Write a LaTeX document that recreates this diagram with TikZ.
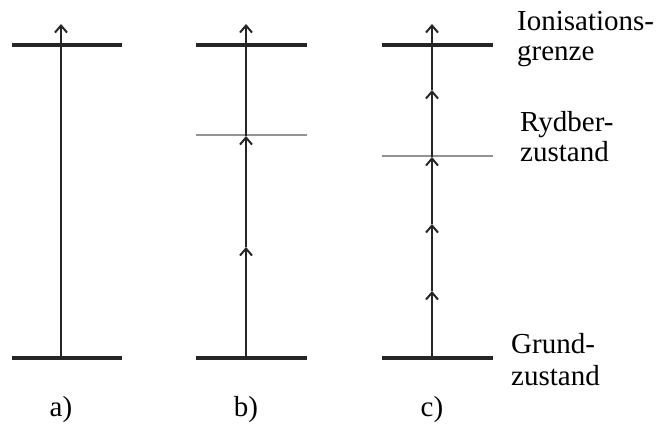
\documentclass[tikz,border=0pt]{standalone}
\usepackage{fontspec}
\setmainfont{Liberation Serif}
\usetikzlibrary{arrows.meta}
\begin{document}
\begin{tikzpicture}[x=1pt,y=-1pt,
  level/.style={line width=3.5pt,black!85},
  rydlevel/.style={line width=2.4pt,black!42},
  photon/.style={line width=2.2pt,black!85,-{Straight Barb[length=7pt,width=12pt,line width=2pt]}},
  lbl/.style={font=\fontsize{29}{31}\selectfont,anchor=base west,inner sep=0pt},
  sub/.style={font=\fontsize{29}{31}\selectfont,anchor=base,inner sep=0pt}]
\useasboundingbox (0,0) rectangle (661,423);
% column a
\coordinate (a0) at (61,358);
\coordinate (aI) at (61,24);
\draw[level] (12,358) -- (122,358);
\draw[level] (12,45) -- (122,45);
\draw[photon] (a0) -- (aI);
% column b
\coordinate (b0) at (246,358);
\coordinate (b1) at (246,247);
\coordinate (b2) at (246,136);
\coordinate (bI) at (246,24);
\draw[level] (196,358) -- (307,358);
\draw[level] (196,45) -- (307,45);
\draw[rydlevel] (196,135) -- (307,135);
\draw[photon] (b0) -- (b1);
\draw[photon] (b1) -- (b2);
\draw[photon] (b2) -- (bI);
% column c
\coordinate (c0) at (432,358);
\coordinate (c1) at (432,291);
\coordinate (c2) at (432,224);
\coordinate (c3) at (432,157);
\coordinate (c4) at (432,90);
\coordinate (cI) at (432,24);
\draw[level] (382,358) -- (493,358);
\draw[level] (382,45) -- (493,45);
\draw[rydlevel] (382,156) -- (493,156);
\draw[photon] (c0) -- (c1);
\draw[photon] (c1) -- (c2);
\draw[photon] (c2) -- (c3);
\draw[photon] (c3) -- (c4);
\draw[photon] (c4) -- (cI);
% labels
\node[lbl] (ion1) at (517,30) {Ionisations-};
\node[lbl] (ion2) at (517,60) {grenze};
\node[lbl] (ryd1) at (520,131) {Rydber-};
\node[lbl] (ryd2) at (520,161) {zustand};
\node[lbl] (gr1) at (511,353) {Grund-};
\node[lbl] (gr2) at (511,385) {zustand};
\node[sub] (la) at (61,416) {a)};
\node[sub] (lb) at (246,416) {b)};
\node[sub] (lc) at (432,416) {c)};
\end{tikzpicture}
\end{document}
